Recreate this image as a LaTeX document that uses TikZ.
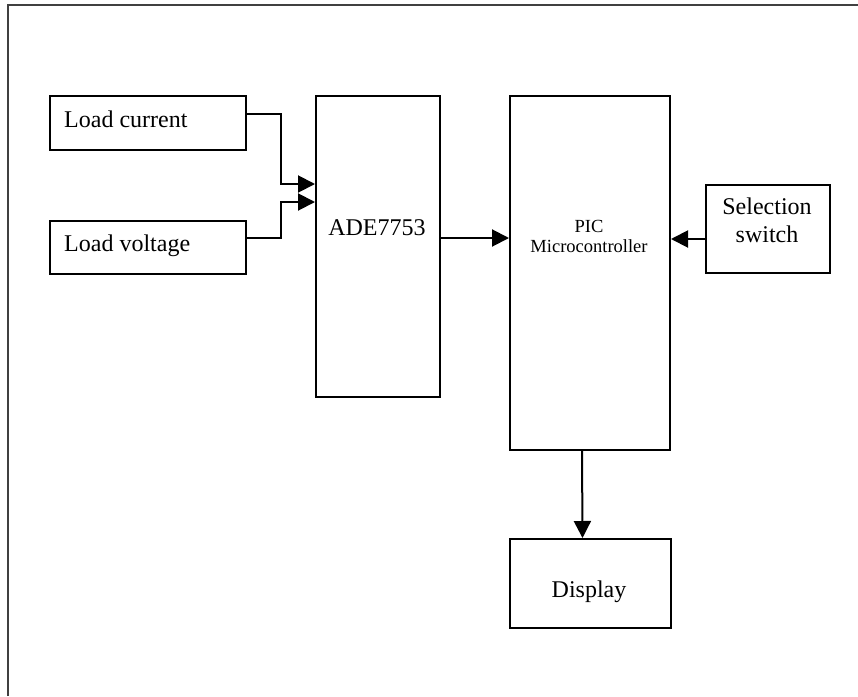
\documentclass[tikz,border=0pt]{standalone}
\usepackage{fontspec}
\setmainfont{Liberation Serif}
\usetikzlibrary{arrows.meta}
\begin{document}
\begin{tikzpicture}[x=1pt,y=-1pt,
  blk/.style={draw, line width=2pt, inner sep=0, anchor=north west},
  txt/.style={font=\fontsize{24}{28}\selectfont, inner sep=0},
  small/.style={font=\fontsize{18.5}{22}\selectfont, inner sep=0},
  conn/.style={line width=2pt, -{Triangle[length=17pt,width=17pt]}}]
\useasboundingbox (0,0) rectangle (858,696);
\draw[gray!50!black, line width=2pt] (7.5,696) -- (7.5,5) -- (858,5);
% blocks
\node[blk, minimum width=196pt, minimum height=54pt] (lc) at (49,95) {};
\node[blk, minimum width=196pt, minimum height=53pt] (lv) at (49,220) {};
\node[blk, minimum width=124pt, minimum height=301pt] (ade) at (315,95) {};
\node[blk, minimum width=160pt, minimum height=354pt] (pic) at (509,95) {};
\node[blk, minimum width=124pt, minimum height=88pt] (sel) at (705,184) {};
\node[blk, minimum width=161pt, minimum height=89pt] (disp) at (509,538) {};
% texts
\node[txt, anchor=base west] (tlc) at (64,127) {Load current};
\node[txt, anchor=base west] (tlv) at (64,251) {Load voltage};
\node[txt, anchor=base] (tade) at (377,235) {ADE7753};
\node[small, anchor=base] (tpic1) at (589,232) {PIC};
\node[small, anchor=base] (tpic2) at (589,252) {Microcontroller};
\node[txt, anchor=base] (tsel1) at (767,214) {Selection};
\node[txt, anchor=base] (tsel2) at (767,242) {switch};
\node[txt, anchor=base] (tdisp) at (589,597) {Display};
% connectors
\draw[conn] ([yshift=9pt]lc.east) -- ++(34,0) |- ([yshift=-89pt]ade.north west);
\draw[conn] ([yshift=9.5pt]lv.east) -- ++(34,0) |- ([yshift=-107pt]ade.north west);
\draw[conn] ([yshift=8.5pt]ade.east) coordinate (a) -- (a -| pic.west);
\draw[conn] ([yshift=-10pt]sel.west) coordinate (s) -- (s -| pic.east);
\draw[conn] ([xshift=-8pt]pic.south) -- ([xshift=-8pt]disp.north);
\end{tikzpicture}
\end{document}
